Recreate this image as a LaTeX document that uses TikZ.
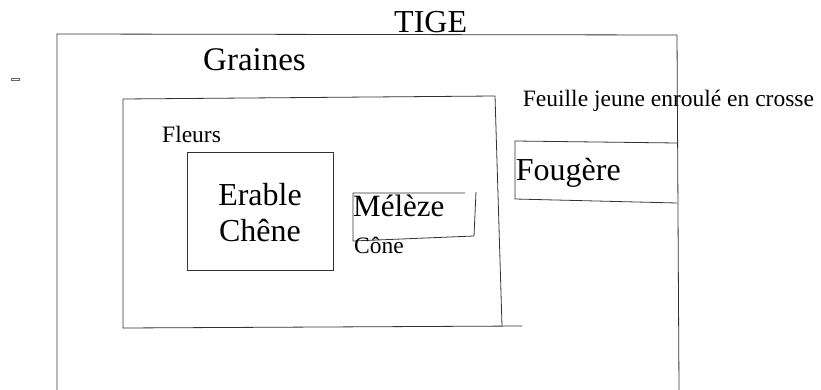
\documentclass[tikz,border=0pt]{standalone}
\usepackage{fontspec}
\setmainfont{Liberation Serif}
\usetikzlibrary{calc}

\tikzset{
  trait/.style={line width=0.8pt,draw=black!80},
  grand/.style={inner sep=0pt,anchor=base west,font=\fontsize{32}{36}\selectfont},
  petit/.style={inner sep=0pt,anchor=base west,font=\fontsize{23.5}{27}\selectfont}
}

\begin{document}
\begin{tikzpicture}[x=1pt,y=-1pt]
            \useasboundingbox (0,0) rectangle (821,390);
            \coordinate (tigeBG) at (57,390);
            \coordinate (tigeHG) at (57,34);
            \coordinate (tigeHD) at (677,35);
            \coordinate (tigeBD) at (679,390);

            \coordinate (fleursHG) at (123,99);
            \coordinate (fleursHD) at (495,96);
            \coordinate (fleursBD) at (502,326);
            \coordinate (fleursBG) at (123,328);
            \coordinate (fleursFin) at (522,326);

            \coordinate (coneA) at (353,193);
            \coordinate (coneB) at (465,193);
            \coordinate (coneC) at (476,192);
            \coordinate (coneD) at (474,236);
            \coordinate (coneE) at (353,241);

            \coordinate (fougHG) at (515,141);
            \coordinate (fougHD) at (677,143);
            \coordinate (fougBG) at (515,199);
            \coordinate (fougBD) at (677,203);

            % boites
            \draw[trait] (tigeBG)--(tigeHG)--(tigeHD)--(tigeBD);
            \draw[trait] (fleursHD)--(fleursHG)--(fleursBG)--(fleursFin);
            \draw[trait] (fleursHD)--(fleursBD);
            \draw[trait] (187,152) rectangle (333,270);
            \draw[trait] (coneB)--(coneA)--(coneE)--(coneD)--(coneC);
            \draw[trait] (fougHD)--(fougHG)--(fougBG)--(fougBD);
            \draw[line width=0.7pt,draw=black!60,fill=white] (11.5,78) rectangle (19.5,80.5);

            % textes
            \node[grand] (tige) at (394,33) {TIGE};
            \node[grand,font=\fontsize{33}{36}\selectfont] (graines) at (203,71) {Graines};
            \node[petit] (fleurs) at (162,142.7) {Fleurs};
            \node[grand,anchor=base] (erable) at (260,205) {Erable};
            \node[grand,anchor=base] (chene) at (260,241.7) {Chêne};
            \node[grand,font=\fontsize{31}{36}\selectfont] (meleze) at (353,216.7) {Mélèze};
            \node[petit] (cone) at (354,253) {Cône};
            \node[petit] (feuille) at (522.7,107) {Feuille jeune enroulé en crosse};
            \node[grand] (fougere) at (515.7,180) {Fougère};
\end{tikzpicture}
\end{document}
